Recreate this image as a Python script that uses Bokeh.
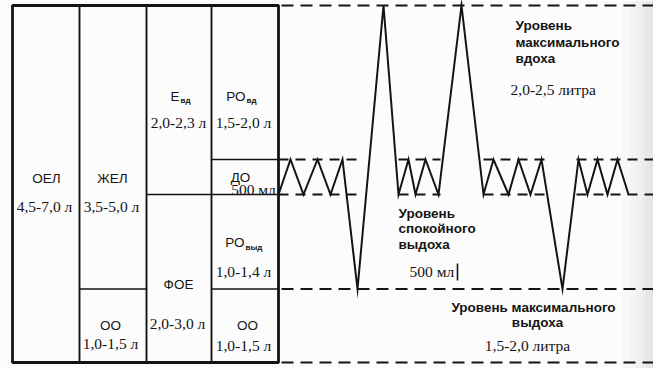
from bokeh.plotting import figure
from bokeh.models import Range1d
from bokeh.embed import file_html
from bokeh.resources import INLINE
from bokeh.core.properties import value

# ---- data -------------------------------------------------------------
# Lung volume compartments, litres, from the bottom of the lungs upwards
compartments = ["ОО", "РОвыд", "ДО", "РОвд"]
volumes = [1.05, 1.35, 0.5, 2.2]

# Spirogram: time (s) and lung volume (l)
trace_t = [0.0, 1.2, 2.5, 3.9, 5.2, 6.4, 7.9, 10.5, 12.0, 13.0, 13.7, 14.7,
           16.0, 18.3, 20.5, 21.5, 23.0, 24.0, 25.2, 26.3, 28.4, 30.0, 30.9,
           31.9, 32.9, 33.9, 35.0]
trace_v = [2.4, 2.9, 2.4, 2.9, 2.4, 2.9, 1.05, 5.1, 2.4, 2.9, 2.4, 2.9,
           2.4, 5.1, 2.4, 2.9, 2.4, 2.9, 2.4, 2.9, 1.05, 2.9, 2.4,
           2.9, 2.4, 2.9, 2.4]

# Quiet-breathing episodes (s), where the tidal levels are marked
quiet_start = [0.0, 12.0, 20.5, 29.8]
quiet_end = [8.0, 16.2, 27.0, 37.5]

# ---- geometry ---------------------------------------------------------
W, H = 653, 368
X0, Y0 = 278, 362          # pixel position of t = 0 and V = 0
PX_S, PX_L = 10.0, 70.0    # pixels per second / per litre


def px(x):
    return (x - X0) / PX_S


def py(y):
    return (Y0 - y) / PX_L


levels = [0.0]
for v in volumes:
    levels.append(levels[-1] + v)
RV, FRC, EIL, TLC = levels[1], levels[2], levels[3], levels[4]

p = figure(width=W, height=H, output_backend="svg", toolbar_location=None,
           x_range=Range1d(px(0), px(W)), y_range=Range1d(py(H), py(0)),
           min_border=0)
p.axis.visible = False
p.grid.visible = False
p.outline_line_color = None
p.background_fill_color = "#fcfcfc"
p.border_fill_color = "#fcfcfc"

INK = "#141414"

# paper shading along the right edge of the sheet
shade_x = [622, 630, 636, 641, 645, 649]
p.quad(left=[px(x) for x in shade_x], right=[px(W)] * len(shade_x),
       bottom=py(H), top=py(0), fill_color="#9a9a9a", fill_alpha=0.045,
       line_color=None)

# ---- table of volumes -------------------------------------------------
cols = [px(12), px(79), px(146), px(211), px(278)]
p.quad(left=cols[0], right=cols[-1], bottom=levels[0], top=TLC,
       fill_color=None, line_color=INK, line_width=2.8)
p.segment(x0=[cols[1], cols[2], cols[3]], y0=[levels[0]] * 3,
          x1=[cols[1], cols[2], cols[3]], y1=[TLC] * 3,
          line_color=INK, line_width=1.9)
p.segment(x0=[cols[1], cols[2], cols[3], cols[3]],
          y0=[RV, FRC, EIL, RV],
          x1=[cols[2], cols[4], cols[4], cols[4]],
          y1=[RV, FRC, EIL, RV],
          line_color=INK, line_width=1.7)

# ---- spirogram --------------------------------------------------------
p.line(trace_t, trace_v, line_color=INK, line_width=2.0, line_join="miter")

t_end = px(W)
p.segment(x0=[px(281)] * 3, y0=[TLC, RV, levels[0]],
          x1=[t_end] * 3, y1=[TLC, RV, levels[0]],
          line_color=INK, line_width=2.0, line_dash="12 7")
p.segment(x0=quiet_start + quiet_start, y0=[EIL] * 4 + [FRC] * 4,
          x1=quiet_end + quiet_end, y1=[EIL] * 4 + [FRC] * 4,
          line_color=INK, line_width=1.8, line_dash="10 7")

# ---- labels -----------------------------------------------------------
SANS = value("Liberation Sans")
SERIF = value("Liberation Serif")


def put(xs, ys, texts, font, size, style="normal", align="center"):
    p.text(x=[px(x) for x in xs], y=[py(y) for y in ys], text=texts,
           text_font=font, text_font_size=size, text_font_style=style,
           text_align=align, text_baseline="middle", text_color=INK)


put([46, 112, 240, 178, 110, 247], [178, 178, 177, 284, 325, 325],
    ["ОЕЛ", "ЖЕЛ", "ДО", "ФОЕ", "ОО", "ОО"], SANS, "13.5px")
put([179, 245, 244], [96, 96, 242], ["Е", "РО", "РО"], SANS, "13.5px",
    align="right")
put([180, 246, 245], [100, 100, 247], ["вд", "вд", "выд"], SANS, "8px",
    style="bold", align="left")
put([44, 111, 178, 243, 253, 243, 177, 110, 243],
    [206, 206, 122, 122, 189, 271, 323, 343, 345],
    ["4,5-7,0 л", "3,5-5,0 л", "2,0-2,3 л", "1,5-2,0 л", "500 мл",
     "1,0-1,4 л", "2,0-3,0 л", "1,0-1,5 л", "1,0-1,5 л"], SERIF, "15.5px")

put([515, 515, 515, 398, 398, 398],
    [25, 42, 58, 213, 228, 244],
    ["Уровень", "максимального", "вдоха",
     "Уровень", "спокойного", "выдоха"], SANS, "13.5px", style="bold",
    align="left")
put([533, 537], [307, 322], ["Уровень максимального", "выдоха"], SANS,
    "13.5px", style="bold")
put([510, 409], [89, 271], ["2,0-2,5 литра", "500 мл"], SERIF, "15.5px",
    align="left")
put([527], [345], ["1,5-2,0 литра"], SERIF, "15.5px")
p.segment(x0=[px(457)], y0=[py(263)], x1=[px(457)], y1=[py(280)],
          line_color=INK, line_width=1.6)

open("out.html", "w").write(file_html(p, INLINE))
